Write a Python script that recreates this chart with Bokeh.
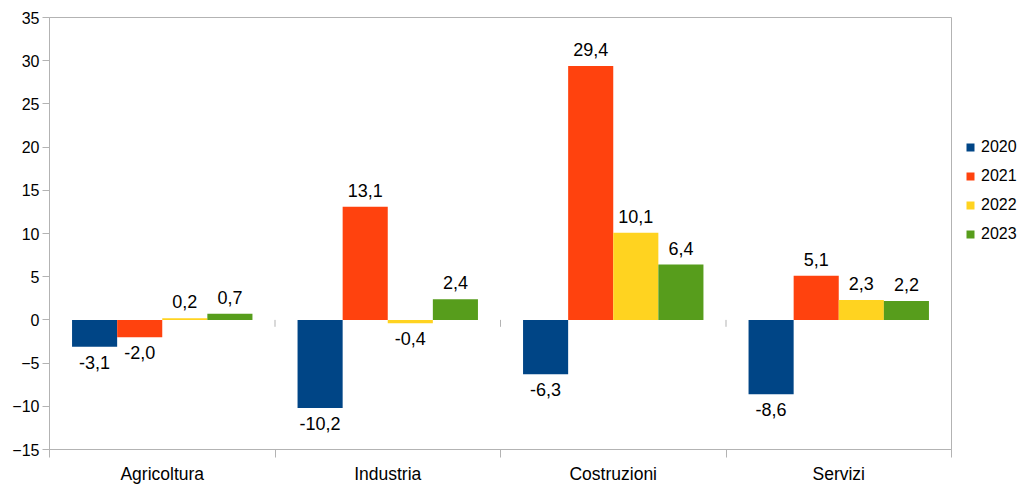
from bokeh.plotting import figure
from bokeh.layouts import row
from bokeh.models import (ColumnDataSource, LabelSet, FixedTicker, LinearAxis,
                          Range1d, Legend, LegendItem)
from bokeh.core.properties import value
from bokeh.embed import file_html
from bokeh.resources import INLINE

# Variazioni percentuali per settore e anno
categories = ["Agricoltura", "Industria", "Costruzioni", "Servizi"]
years = ["2020", "2021", "2022", "2023"]
v2020 = [-3.1, -10.2, -6.3, -8.6]
v2021 = [-2.0, 13.1, 29.4, 5.1]
v2022 = [0.2, -0.4, 10.1, 2.3]
v2023 = [0.7, 2.4, 6.4, 2.2]
y_ticks = [-15, -10, -5, 0, 5, 10, 15, 20, 25, 30, 35]

series = [v2020, v2021, v2022, v2023]
colors = ["#004586", "#ff420e", "#ffd320", "#579d1c"]

FONT = "Liberation Sans"
GRID = "#d0d0d0"
AXIS = "#b3b3b3"

p = figure(width=952, height=486, output_backend="svg", toolbar_location=None,
           x_range=Range1d(0, 4), y_range=Range1d(-15, 35),
           x_axis_type=None, y_axis_type=None,
           min_border_left=49, min_border_right=1,
           min_border_top=17, min_border_bottom=35)
p.background_fill_color = "white"
p.border_fill_color = "white"
p.outline_line_color = AXIS

# Y axis
yaxis = LinearAxis(ticker=FixedTicker(ticks=y_ticks))
yaxis.axis_line_color = AXIS
yaxis.major_tick_line_color = AXIS
yaxis.major_tick_out = 7
yaxis.major_tick_in = 0
yaxis.minor_tick_line_color = None
yaxis.major_label_standoff = 3
yaxis.major_label_text_font = FONT
yaxis.major_label_text_font_size = "16px"
yaxis.major_label_text_color = "black"
p.add_layout(yaxis, "left")

# X axis: category names centred, separators as minor ticks
centers = [i + 0.5 for i in range(len(categories))]
xaxis = LinearAxis(ticker=FixedTicker(ticks=centers,
                                      minor_ticks=list(range(len(categories) + 1))))
xaxis.major_label_overrides = {c: name for c, name in zip(centers, categories)}
xaxis.axis_line_color = AXIS
xaxis.major_tick_line_color = None
xaxis.major_tick_out = 0
xaxis.major_tick_in = 0
xaxis.minor_tick_line_color = AXIS
xaxis.minor_tick_out = 8
xaxis.minor_tick_in = 0
xaxis.major_label_standoff = 6
xaxis.major_label_text_font = FONT
xaxis.major_label_text_font_size = "17.5px"
xaxis.major_label_text_color = "black"
p.add_layout(xaxis, "below")

p.ygrid.ticker = FixedTicker(ticks=y_ticks)
p.ygrid.grid_line_color = GRID
p.xgrid.grid_line_color = None

# Separator ticks on the zero line
sep_x = [1, 2, 3, 4]
p.segment(x0=sep_x, y0=[0] * 4, x1=sep_x, y1=[-0.8] * 4, line_color=AXIS, line_width=1)

bar_w = 0.2
for j, (vals, col) in enumerate(zip(series, colors)):
    xs = [i + 0.1 + bar_w * (j + 0.5) for i in range(len(categories))]
    labels = [f"{v:.1f}".replace(".", ",") for v in vals]
    src = ColumnDataSource(dict(x=xs, top=vals))
    p.vbar(x="x", top="top", bottom=0, width=bar_w, source=src,
           fill_color=col, line_color=None)
    pos = ColumnDataSource(dict(x=[x for x, v in zip(xs, vals) if v >= 0],
                                y=[v for v in vals if v >= 0],
                                t=[l for l, v in zip(labels, vals) if v >= 0]))
    neg = ColumnDataSource(dict(x=[x for x, v in zip(xs, vals) if v < 0],
                                y=[v for v in vals if v < 0],
                                t=[l for l, v in zip(labels, vals) if v < 0]))
    p.add_layout(LabelSet(x="x", y="y", text="t", source=pos, y_offset=10,
                          text_align="center", text_baseline="alphabetic",
                          text_font=value(FONT), text_font_size="18px",
                          text_color="black"))
    p.add_layout(LabelSet(x="x", y="y", text="t", source=neg, y_offset=-9,
                          text_align="center", text_baseline="top",
                          text_font=value(FONT), text_font_size="18px",
                          text_color="black"))

# Legend panel to the right of the chart; zero-height proxy bars carry the colours
lf = figure(width=69, height=486, output_backend="svg", toolbar_location=None,
            x_range=Range1d(0, 1), y_range=Range1d(0, 1),
            x_axis_type=None, y_axis_type=None,
            min_border=0, outline_line_color=None)
lf.grid.visible = False
legend_items = []
for col, yr in zip(colors, years):
    r = lf.vbar(x=[0.5], top=[0], bottom=[0], width=0.1, fill_color=col, line_color=None)
    legend_items.append(LegendItem(label=yr, renderers=[r]))

legend = Legend(items=legend_items, location=(13, 205), orientation="vertical",
                glyph_width=10, glyph_height=10, label_standoff=6,
                label_height=20, spacing=9, padding=0, margin=0,
                label_text_font=FONT, label_text_font_size="16px",
                label_text_color="black",
                border_line_color=None, background_fill_alpha=0)
lf.add_layout(legend, "center")

layout = row(p, lf, spacing=0)
open("out.html", "w").write(file_html(layout, INLINE))
